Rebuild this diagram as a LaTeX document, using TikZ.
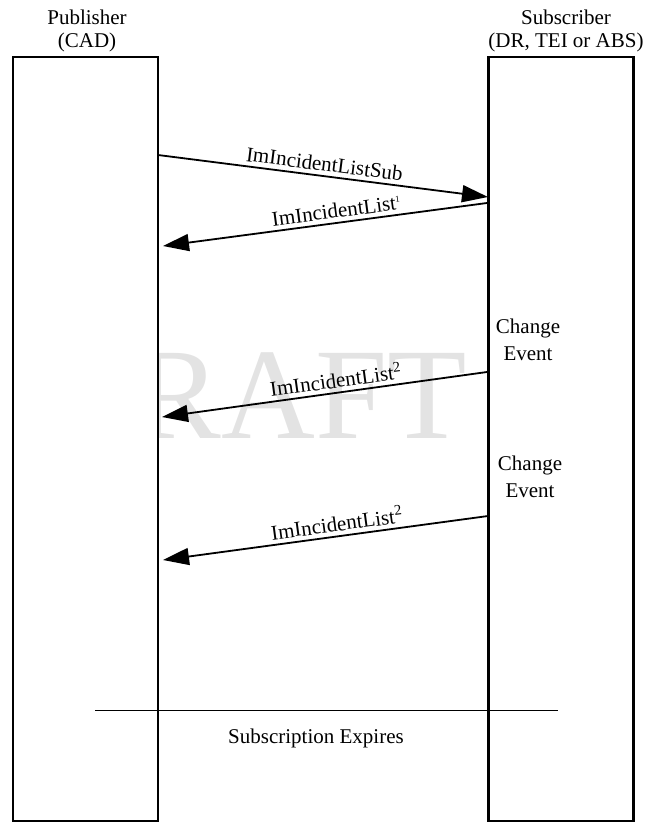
\documentclass[tikz,border=0pt]{standalone}
\usepackage{fontspec}
\setmainfont{Liberation Serif}
\usetikzlibrary{arrows.meta}
\begin{document}
\begin{tikzpicture}[x=1pt,y=-1pt,
  every node/.style={font=\fontsize{21pt}{23pt}\selectfont},
  lifebox/.style={draw, fill=white, line width=2.1pt, minimum width=145pt,
    minimum height=764pt, inner sep=0pt, outer sep=0pt},
  msg/.style={line width=1.8pt, -{Triangle[length=26pt,width=17pt]}},
  msglabel/.style={sloped, above=3pt, inner sep=1pt},
  note/.style={align=center, inner sep=0pt, anchor=north},
]
\useasboundingbox (0,0) rectangle (646,822);

% watermark behind the lifelines
\node[text=black!11, font=\fontsize{130pt}{130pt}\selectfont,
      anchor=base east, inner sep=0pt] (wm) at (467,438) {DRAFT};

% lifelines
\node[lifebox] (pub) at (85.5,439) {};
\node[lifebox] (sub) at (561,439) {};

% headers
\node[note] (pubname) at (87,9.7) {Publisher\\(CAD)};
\node[note] (subname) at (566,9.7) {Subscriber\\(DR, TEI or ABS)};

% message end points
\coordinate (m1a) at (158,155);
\coordinate (m1b) at (488,197);
\coordinate (m2a) at (487,203);
\coordinate (m2b) at (163,246);
\coordinate (m3a) at (487,372);
\coordinate (m3b) at (162,417);
\coordinate (m4a) at (488,516);
\coordinate (m4b) at (163,560);

\draw[msg] (m1a) -- node[msglabel, pos=0.5] (l1) {ImIncidentListSub} (m1b);
\draw[msg] (m2a) -- node[msglabel, pos=0.46] (l2)
  {ImIncidentList\textsuperscript{\fontsize{9pt}{9pt}\selectfont 1}} (m2b);
\draw[msg] (m3a) -- node[msglabel, pos=0.46] (l3)
  {ImIncidentList\textsuperscript{2}} (m3b);
\draw[msg] (m4a) -- node[msglabel, pos=0.46] (l4)
  {ImIncidentList\textsuperscript{2}} (m4b);

% change events on the subscriber side
\node[note, font=\fontsize{21pt}{27pt}\selectfont] (ce1) at (528,318.7) {Change\\Event};
\node[note, font=\fontsize{21pt}{27pt}\selectfont] (ce2) at (530,455.7) {Change\\Event};

% end of the subscription
\coordinate (e1) at (95,710.5);
\coordinate (e2) at (558,710.5);
\draw[line width=1.8pt] (e1) -- (e2);
\node[anchor=base, inner sep=0pt] (exp) at (316,743) {Subscription Expires};
\end{tikzpicture}
\end{document}
